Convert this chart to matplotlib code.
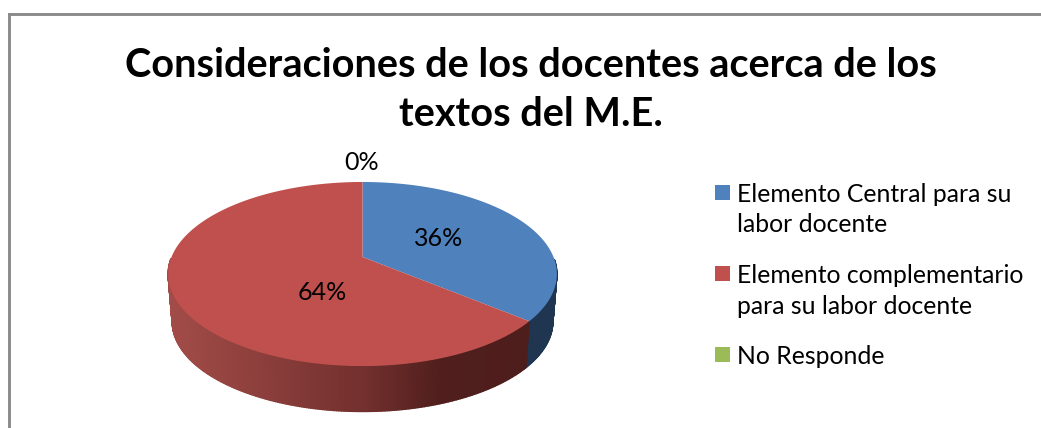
import numpy as np
import matplotlib
matplotlib.use('Agg')
import matplotlib.pyplot as plt
from matplotlib.patches import Rectangle

title = 'Consideraciones de los docentes acerca de los\ntextos del M.E.'
categories = ['Elemento Central para su\nlabor docente',
              'Elemento complementario\npara su labor docente',
              'No Responde']
values = [36, 64, 0]
colors = ['#4f81bd', '#c0504d', '#9bbb59']
side_blue = '#1f3550'

plt.rcParams['font.family'] = ['Lato', 'DejaVu Sans']

fig = plt.figure(figsize=(10.41, 4.28), dpi=100)
ax = fig.add_axes([0, 0, 1, 1])
ax.set_xlim(0, 1041)
ax.set_ylim(428, 0)
ax.axis('off')


# perspective of the disc, theta clockwise from 12 o'clock
def top_face(theta, r=1.0):
    u = r * np.sin(theta)
    v = r * np.cos(theta)
    s = 1 / (1 + 0.185 * v)
    return 362.5 + 191 * u * s, 257 - 88.9 * v * s


def bottom_face(theta):
    u = np.sin(theta)
    v = np.cos(theta)
    s = 1 / (1 + 0.185 * v)
    return 362.5 + 187 * u * s, 305 - 86.8 * v * s


def side_color(x):
    stops_x = [168, 362, 440, 530]
    reds = [162, 115, 80, 78]
    greens = [76, 48, 31, 30]
    blues = [72, 46, 29, 28]
    return (np.interp(x, stops_x, reds) / 255,
            np.interp(x, stops_x, greens) / 255,
            np.interp(x, stops_x, blues) / 255)


fractions = np.array(values) / sum(values)
edges = np.concatenate([[0], np.cumsum(fractions)]) * 2 * np.pi

# side wall, only the part facing the viewer
for i in range(len(values)):
    if values[i] == 0:
        continue
    th = np.linspace(edges[i], edges[i + 1], int(values[i] * 6) + 2)
    for a, b in zip(th[:-1], th[1:]):
        mid = (a + b) / 2
        if np.cos(mid) > -0.02:
            continue
        xt, yt = top_face(np.array([a, b]))
        xb, yb = bottom_face(np.array([b, a]))
        c = side_blue if i == 0 else side_color(xt.mean())
        ax.fill(np.r_[xt, xb], np.r_[yt, yb], color=c, lw=1, zorder=2)

# top of the pie
for i in range(len(values)):
    if values[i] == 0:
        continue
    th = np.linspace(edges[i], edges[i + 1], 200)
    x, y = top_face(th)
    x0, y0 = top_face(0, 0)
    ax.fill(np.r_[x0, x], np.r_[y0, y], color=colors[i], lw=0, zorder=3)

ax.text(438.5, 238, f'{values[0]}%', fontsize=18, ha='center', va='center', color='black', zorder=4)
ax.text(322, 293, f'{values[1]}%', fontsize=18, ha='center', va='center', color='black', zorder=4)
ax.text(362, 163, f'{values[2]}%', fontsize=18, ha='center', va='center', color='black', zorder=4)

ax.text(531, 90, title, fontsize=28.5, fontweight='bold', ha='center', va='center',
        linespacing=1.42, color='black')

# legend rows, the swatch lines up with the first text line
for name, c, y in zip(categories, colors, [192, 273.5, 354.5]):
    ax.add_patch(Rectangle((714.5, y - 7.5), 15.5, 15, facecolor=c, edgecolor='none'))
    ax.text(737, y - 9.5, name, fontsize=17.8, ha='left', va='top', linespacing=1.42, color='black')

# chart border, cut by the crop on the right and bottom
ax.plot([9.2, 9.2], [428, 14.3], color='#8a8a8a', lw=2.1, solid_capstyle='projecting')
ax.plot([9.2, 1041], [14.3, 14.3], color='#8a8a8a', lw=2.1, solid_capstyle='projecting')

fig.savefig('out.png', dpi=100)
